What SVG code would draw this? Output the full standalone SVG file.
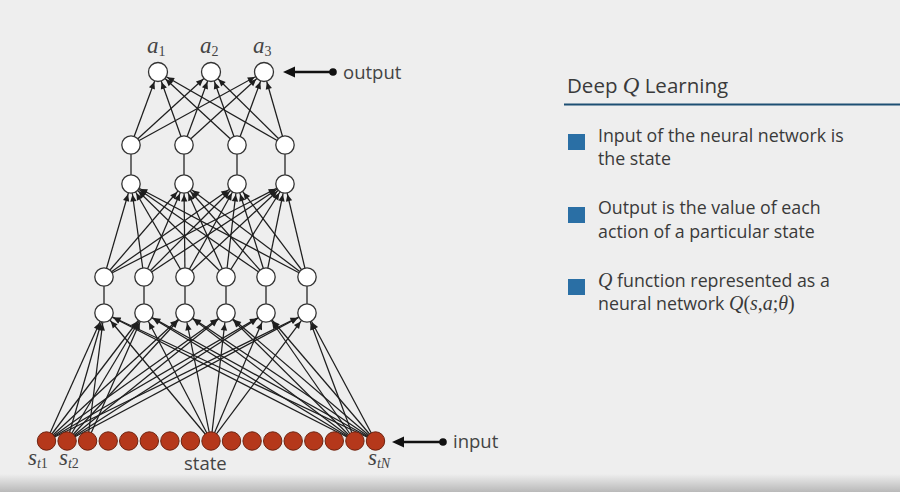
<svg xmlns="http://www.w3.org/2000/svg" width="900" height="492" viewBox="0 0 900 492">
<style>
.e{stroke:#1e1e1e;stroke-width:1.25;fill:none;marker-end:url(#ah)}
.v{stroke:#1e1e1e;stroke-width:1.25;fill:none}
.h{fill:#fff;stroke:#333;stroke-width:1.3}
.in{fill:#b5381b;stroke:#6e2310;stroke-width:1}
.lbl{font-family:"Open Sans","Liberation Sans",sans-serif;fill:#444;font-size:18.5px}
.m{font-family:"Liberation Serif",serif;font-style:italic;fill:#444;font-size:23px}
.sub{font-size:14px}
.up{font-style:normal}
.t{font-family:"Open Sans","Liberation Sans",sans-serif;fill:#3a3a3a;font-size:20.5px}
.b{font-family:"Open Sans","Liberation Sans",sans-serif;fill:#3a3a3a;font-size:17.8px}
.mq{font-family:"Liberation Serif",serif;font-style:italic;font-size:1.12em}
.ms{font-family:"Liberation Serif",serif;font-size:1.12em}
.bul{fill:#2a6fa5}
.ptr{stroke:#111;stroke-width:2.5;fill:none;marker-end:url(#big)}
</style>
<defs>
<marker id="ah" markerUnits="userSpaceOnUse" markerWidth="1" markerHeight="1" refX="10.5" refY="0" orient="auto" overflow="visible">
<path d="M0,0 L-7,-3.2 L-7,3.2 z" fill="#1e1e1e"/>
</marker>
<marker id="big" markerUnits="userSpaceOnUse" markerWidth="1" markerHeight="1" refX="0" refY="0" orient="auto" overflow="visible">
<path d="M6,0 L-6,-5.5 L-6,5.5 z" fill="#111"/>
</marker>
<linearGradient id="bot" x1="0" y1="0" x2="0" y2="1">
<stop offset="0" stop-color="#eeeeee"/>
<stop offset="1" stop-color="#b9b9b9"/>
</linearGradient>
</defs>
<rect width="900" height="492" fill="#eeeeee"/>
<rect y="474" width="900" height="18" fill="url(#bot)"/>

<g id="connectors">
<line class="e" x1="46.5" y1="441" x2="104" y2="313"/>
<line class="e" x1="46.5" y1="441" x2="144" y2="313"/>
<line class="e" x1="46.5" y1="441" x2="185" y2="313"/>
<line class="e" x1="46.5" y1="441" x2="226" y2="313"/>
<line class="e" x1="46.5" y1="441" x2="266" y2="313"/>
<line class="e" x1="46.5" y1="441" x2="307" y2="313"/>
<line class="e" x1="67.1" y1="441" x2="104" y2="313"/>
<line class="e" x1="67.1" y1="441" x2="144" y2="313"/>
<line class="e" x1="67.1" y1="441" x2="185" y2="313"/>
<line class="e" x1="67.1" y1="441" x2="226" y2="313"/>
<line class="e" x1="67.1" y1="441" x2="266" y2="313"/>
<line class="e" x1="67.1" y1="441" x2="307" y2="313"/>
<line class="e" x1="87.6" y1="441" x2="104" y2="313"/>
<line class="e" x1="87.6" y1="441" x2="144" y2="313"/>
<line class="e" x1="211" y1="441" x2="104" y2="313"/>
<line class="e" x1="211" y1="441" x2="144" y2="313"/>
<line class="e" x1="211" y1="441" x2="185" y2="313"/>
<line class="e" x1="211" y1="441" x2="226" y2="313"/>
<line class="e" x1="211" y1="441" x2="266" y2="313"/>
<line class="e" x1="211" y1="441" x2="307" y2="313"/>
<line class="e" x1="354.9" y1="441" x2="104" y2="313"/>
<line class="e" x1="354.9" y1="441" x2="144" y2="313"/>
<line class="e" x1="354.9" y1="441" x2="185" y2="313"/>
<line class="e" x1="354.9" y1="441" x2="226" y2="313"/>
<line class="e" x1="354.9" y1="441" x2="266" y2="313"/>
<line class="e" x1="354.9" y1="441" x2="307" y2="313"/>
<line class="e" x1="375.5" y1="441" x2="104" y2="313"/>
<line class="e" x1="375.5" y1="441" x2="144" y2="313"/>
<line class="e" x1="375.5" y1="441" x2="185" y2="313"/>
<line class="e" x1="375.5" y1="441" x2="226" y2="313"/>
<line class="e" x1="375.5" y1="441" x2="266" y2="313"/>
<line class="e" x1="375.5" y1="441" x2="307" y2="313"/>
<line class="v" x1="104" y1="313" x2="104" y2="277"/>
<line class="v" x1="144" y1="313" x2="144" y2="277"/>
<line class="v" x1="185" y1="313" x2="185" y2="277"/>
<line class="v" x1="226" y1="313" x2="226" y2="277"/>
<line class="v" x1="266" y1="313" x2="266" y2="277"/>
<line class="v" x1="307" y1="313" x2="307" y2="277"/>
<line class="e" x1="104" y1="277" x2="131" y2="184"/>
<line class="e" x1="104" y1="277" x2="184" y2="184"/>
<line class="e" x1="104" y1="277" x2="237" y2="184"/>
<line class="e" x1="104" y1="277" x2="285" y2="184"/>
<line class="e" x1="144" y1="277" x2="131" y2="184"/>
<line class="e" x1="144" y1="277" x2="184" y2="184"/>
<line class="e" x1="144" y1="277" x2="237" y2="184"/>
<line class="e" x1="144" y1="277" x2="285" y2="184"/>
<line class="e" x1="185" y1="277" x2="131" y2="184"/>
<line class="e" x1="185" y1="277" x2="184" y2="184"/>
<line class="e" x1="185" y1="277" x2="237" y2="184"/>
<line class="e" x1="185" y1="277" x2="285" y2="184"/>
<line class="e" x1="226" y1="277" x2="131" y2="184"/>
<line class="e" x1="226" y1="277" x2="184" y2="184"/>
<line class="e" x1="226" y1="277" x2="237" y2="184"/>
<line class="e" x1="226" y1="277" x2="285" y2="184"/>
<line class="e" x1="266" y1="277" x2="131" y2="184"/>
<line class="e" x1="266" y1="277" x2="184" y2="184"/>
<line class="e" x1="266" y1="277" x2="237" y2="184"/>
<line class="e" x1="266" y1="277" x2="285" y2="184"/>
<line class="e" x1="307" y1="277" x2="131" y2="184"/>
<line class="e" x1="307" y1="277" x2="184" y2="184"/>
<line class="e" x1="307" y1="277" x2="237" y2="184"/>
<line class="e" x1="307" y1="277" x2="285" y2="184"/>
<line class="v" x1="131" y1="184" x2="131" y2="145"/>
<line class="v" x1="184" y1="184" x2="184" y2="145"/>
<line class="v" x1="237" y1="184" x2="237" y2="145"/>
<line class="v" x1="285" y1="184" x2="285" y2="145"/>
<line class="e" x1="131" y1="145" x2="158" y2="72"/>
<line class="e" x1="131" y1="145" x2="211" y2="72"/>
<line class="e" x1="131" y1="145" x2="264" y2="72"/>
<line class="e" x1="184" y1="145" x2="158" y2="72"/>
<line class="e" x1="184" y1="145" x2="211" y2="72"/>
<line class="e" x1="184" y1="145" x2="264" y2="72"/>
<line class="e" x1="237" y1="145" x2="158" y2="72"/>
<line class="e" x1="237" y1="145" x2="211" y2="72"/>
<line class="e" x1="237" y1="145" x2="264" y2="72"/>
<line class="e" x1="285" y1="145" x2="158" y2="72"/>
<line class="e" x1="285" y1="145" x2="211" y2="72"/>
<line class="e" x1="285" y1="145" x2="264" y2="72"/>
<line class="ptr" x1="333" y1="72" x2="289" y2="72"/>
<circle cx="333" cy="72" r="3.8" fill="#111"/>
<line class="ptr" x1="443" y1="442" x2="398" y2="442"/>
<circle cx="443" cy="442" r="3.8" fill="#111"/>
</g>

<g id="input-layer">
<g id="in1"><circle class="in" cx="46.5" cy="441" r="9.2"/></g>
<g id="in2"><circle class="in" cx="67.1" cy="441" r="9.2"/></g>
<g id="in3"><circle class="in" cx="87.6" cy="441" r="9.2"/></g>
<g id="in4"><circle class="in" cx="108.2" cy="441" r="9.2"/></g>
<g id="in5"><circle class="in" cx="128.7" cy="441" r="9.2"/></g>
<g id="in6"><circle class="in" cx="149.3" cy="441" r="9.2"/></g>
<g id="in7"><circle class="in" cx="169.9" cy="441" r="9.2"/></g>
<g id="in8"><circle class="in" cx="190.4" cy="441" r="9.2"/></g>
<g id="in9"><circle class="in" cx="211" cy="441" r="9.2"/></g>
<g id="in10"><circle class="in" cx="231.5" cy="441" r="9.2"/></g>
<g id="in11"><circle class="in" cx="252.1" cy="441" r="9.2"/></g>
<g id="in12"><circle class="in" cx="272.7" cy="441" r="9.2"/></g>
<g id="in13"><circle class="in" cx="293.2" cy="441" r="9.2"/></g>
<g id="in14"><circle class="in" cx="313.8" cy="441" r="9.2"/></g>
<g id="in15"><circle class="in" cx="334.3" cy="441" r="9.2"/></g>
<g id="in16"><circle class="in" cx="354.9" cy="441" r="9.2"/></g>
<g id="in17"><circle class="in" cx="375.5" cy="441" r="9.2"/></g>
</g>

<g id="hidden-1">
<g id="h1a"><circle class="h" cx="104" cy="313" r="9.2"/></g>
<g id="h1b"><circle class="h" cx="144" cy="313" r="9.2"/></g>
<g id="h1c"><circle class="h" cx="185" cy="313" r="9.2"/></g>
<g id="h1d"><circle class="h" cx="226" cy="313" r="9.2"/></g>
<g id="h1e"><circle class="h" cx="266" cy="313" r="9.2"/></g>
<g id="h1f"><circle class="h" cx="307" cy="313" r="9.2"/></g>
</g>
<g id="hidden-2">
<g id="h2a"><circle class="h" cx="104" cy="277" r="9.2"/></g>
<g id="h2b"><circle class="h" cx="144" cy="277" r="9.2"/></g>
<g id="h2c"><circle class="h" cx="185" cy="277" r="9.2"/></g>
<g id="h2d"><circle class="h" cx="226" cy="277" r="9.2"/></g>
<g id="h2e"><circle class="h" cx="266" cy="277" r="9.2"/></g>
<g id="h2f"><circle class="h" cx="307" cy="277" r="9.2"/></g>
</g>
<g id="hidden-3">
<g id="h3a"><circle class="h" cx="131" cy="184" r="9.2"/></g>
<g id="h3b"><circle class="h" cx="184" cy="184" r="9.2"/></g>
<g id="h3c"><circle class="h" cx="237" cy="184" r="9.2"/></g>
<g id="h3d"><circle class="h" cx="285" cy="184" r="9.2"/></g>
</g>
<g id="hidden-4">
<g id="h4a"><circle class="h" cx="131" cy="145" r="9.2"/></g>
<g id="h4b"><circle class="h" cx="184" cy="145" r="9.2"/></g>
<g id="h4c"><circle class="h" cx="237" cy="145" r="9.2"/></g>
<g id="h4d"><circle class="h" cx="285" cy="145" r="9.2"/></g>
</g>
<g id="output-layer">
<g id="out1"><circle class="h" cx="158" cy="72" r="9.5"/><text class="m" x="147" y="53">a<tspan class="sub up" dy="3">1</tspan></text></g>
<g id="out2"><circle class="h" cx="211" cy="72" r="9.5"/><text class="m" x="200" y="53">a<tspan class="sub up" dy="3">2</tspan></text></g>
<g id="out3"><circle class="h" cx="264" cy="72" r="9.5"/><text class="m" x="253" y="53">a<tspan class="sub up" dy="3">3</tspan></text></g>
</g>

<g id="labels">
<text class="lbl" x="343" y="79">output</text>
<text class="lbl" x="453" y="448">input</text>
<text class="lbl" x="184" y="470">state</text>
<text class="m" x="28" y="465">s<tspan class="sub" dy="3">t</tspan><tspan class="sub up">1</tspan></text>
<text class="m" x="59" y="465">s<tspan class="sub" dy="3">t</tspan><tspan class="sub up">2</tspan></text>
<text class="m" x="368" y="465">s<tspan class="sub" dy="3">tN</tspan></text>
</g>

<g id="panel">
<text class="t" x="567" y="93">Deep <tspan class="mq">Q</tspan> Learning</text>
<line x1="564" y1="104.5" x2="900" y2="104.5" stroke="#1d4f73" stroke-width="2"/>
<g id="bullet1">
<rect class="bul" x="568" y="134" width="17" height="16"/>
<text class="b" x="598" y="142">Input of the neural network is</text>
<text class="b" x="598" y="165">the state</text>
</g>
<g id="bullet2">
<rect class="bul" x="568" y="207" width="17" height="16"/>
<text class="b" x="598" y="214">Output is the value of each</text>
<text class="b" x="598" y="238">action of a particular state</text>
</g>
<g id="bullet3">
<rect class="bul" x="568" y="279" width="17" height="16"/>
<text class="b" x="598" y="287"><tspan class="mq">Q</tspan> function represented as a</text>
<text class="b" x="598" y="310">neural network <tspan class="mq">Q</tspan><tspan class="ms">(</tspan><tspan class="mq">s</tspan><tspan class="ms">,</tspan><tspan class="mq">a</tspan><tspan class="ms">;</tspan><tspan class="mq">θ</tspan><tspan class="ms">)</tspan></text>
</g>
</g>
</svg>
